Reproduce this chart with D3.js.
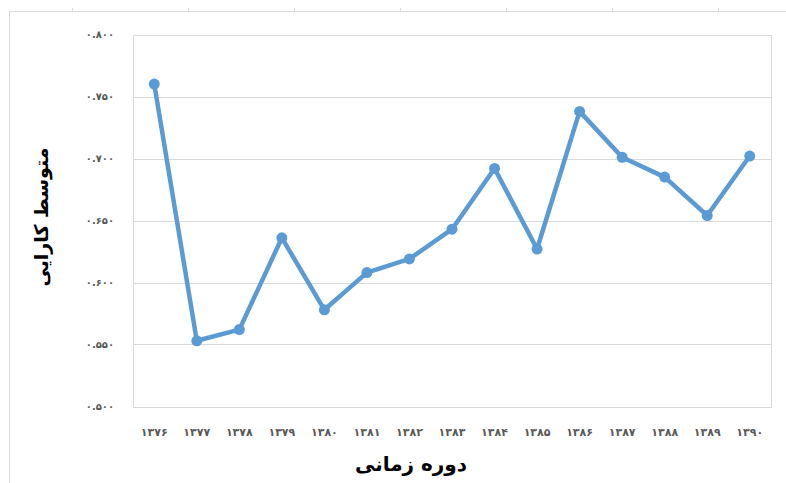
<!DOCTYPE html>
<html>
<head>
<meta charset="utf-8">
<script src="https://cdn.jsdelivr.net/npm/d3@7"></script>
<style>
  body { margin: 0; background: #fff; }
  svg { display: block; }
</style>
</head>
<body>
<div id="chart"></div>
<script>
const years = ['۱۳۷۶', '۱۳۷۷', '۱۳۷۸', '۱۳۷۹', '۱۳۸۰', '۱۳۸۱', '۱۳۸۲', '۱۳۸۳', '۱۳۸۴', '۱۳۸۵', '۱۳۸۶', '۱۳۸۷', '۱۳۸۸', '۱۳۸۹', '۱۳۹۰'];
const efficiency = [0.760, 0.553, 0.562, 0.636, 0.578, 0.608, 0.619, 0.643, 0.692, 0.627, 0.738, 0.701, 0.685, 0.654, 0.702];
const yTicks = [0.5, 0.55, 0.6, 0.65, 0.7, 0.75, 0.8];
const yTickLabels = ['۰.۵۰۰', '۰.۵۵۰', '۰.۶۰۰', '۰.۶۵۰', '۰.۷۰۰', '۰.۷۵۰', '۰.۸۰۰'];

const W = 786, H = 483;
const plot = { left: 133, right: 771, top: 34.5, bottom: 406.5 };

let svg = d3.select('#chart').append('svg')
  .attr('width', W)
  .attr('height', H);

// outer chart frame (runs off the page on the right/bottom)
svg.append('rect')
  .attr('x', 9.5).attr('y', 11.5)
  .attr('width', 820).attr('height', 520)
  .attr('fill', 'none')
  .attr('stroke', '#d9d9d9');

// small sheet marks above the frame
svg.selectAll('.mark')
  .data([72, 188, 294, 400, 506, 612, 718])
  .join('line')
  .attr('x1', d => d + 0.5).attr('x2', d => d + 0.5)
  .attr('y1', 8).attr('y2', 11)
  .attr('stroke', '#d9d9d9');

const x = d3.scaleBand().domain(years).range([plot.left, plot.right]).padding(0);
const y = d3.scaleLinear().domain([0.5, 0.8]).range([plot.bottom, plot.top]);

// gridlines
svg.append('g')
  .selectAll('line')
  .data(yTicks)
  .join('line')
  .attr('x1', plot.left).attr('x2', plot.right)
  .attr('y1', d => Math.round(y(d)) + 0.5)
  .attr('y2', d => Math.round(y(d)) + 0.5)
  .attr('stroke', '#d9d9d9')
  .attr('stroke-width', 1);

// plot area border
svg.append('rect')
  .attr('x', plot.left + 0.5).attr('y', Math.round(plot.top) + 0.5)
  .attr('width', plot.right - plot.left)
  .attr('height', Math.round(plot.bottom) - Math.round(plot.top))
  .attr('fill', 'none')
  .attr('stroke', '#d9d9d9');

// y tick labels
svg.append('g')
  .selectAll('text')
  .data(yTicks)
  .join('text')
  .attr('x', 114)
  .attr('y', d => y(d))
  .attr('dy', '0.35em')
  .attr('text-anchor', 'end')
  .attr('direction', 'ltr')
  .attr('font-family', 'DejaVu Sans')
  .attr('font-weight', 'bold')
  .attr('font-size', 10)
  .attr('fill', '#595959')
  .text((d, i) => yTickLabels[i]);

// x tick labels
svg.append('g')
  .selectAll('text')
  .data(years)
  .join('text')
  .attr('x', d => x(d) + x.bandwidth() / 2)
  .attr('y', 436)
  .attr('text-anchor', 'middle')
  .attr('font-family', 'DejaVu Sans')
  .attr('font-weight', 'bold')
  .attr('font-size', 11)
  .attr('fill', '#595959')
  .text(d => d);

// axis titles
svg.append('text')
  .attr('x', 411).attr('y', 471)
  .attr('text-anchor', 'middle')
  .attr('font-family', 'DejaVu Sans')
  .attr('font-weight', 'bold')
  .attr('font-size', 20)
  .attr('fill', '#000')
  .text('دوره زمانی');

svg.append('text')
  .attr('transform', 'translate(48,217) rotate(-90)')
  .attr('text-anchor', 'middle')
  .attr('font-family', 'DejaVu Sans')
  .attr('font-weight', 'bold')
  .attr('font-size', 19)
  .attr('fill', '#000')
  .text('متوسط کارایی');

// series
const line = d3.line()
  .x((d, i) => x(years[i]) + x.bandwidth() / 2)
  .y(d => y(d));

svg.append('path')
  .datum(efficiency)
  .attr('d', line)
  .attr('fill', 'none')
  .attr('stroke', '#5b9bd5')
  .attr('stroke-width', 4.5)
  .attr('stroke-linejoin', 'round')
  .attr('stroke-linecap', 'round');

svg.append('g')
  .selectAll('circle')
  .data(efficiency)
  .join('circle')
  .attr('cx', (d, i) => x(years[i]) + x.bandwidth() / 2)
  .attr('cy', d => y(d))
  .attr('r', 5.5)
  .attr('fill', '#5b9bd5');
</script>
</body>
</html>
